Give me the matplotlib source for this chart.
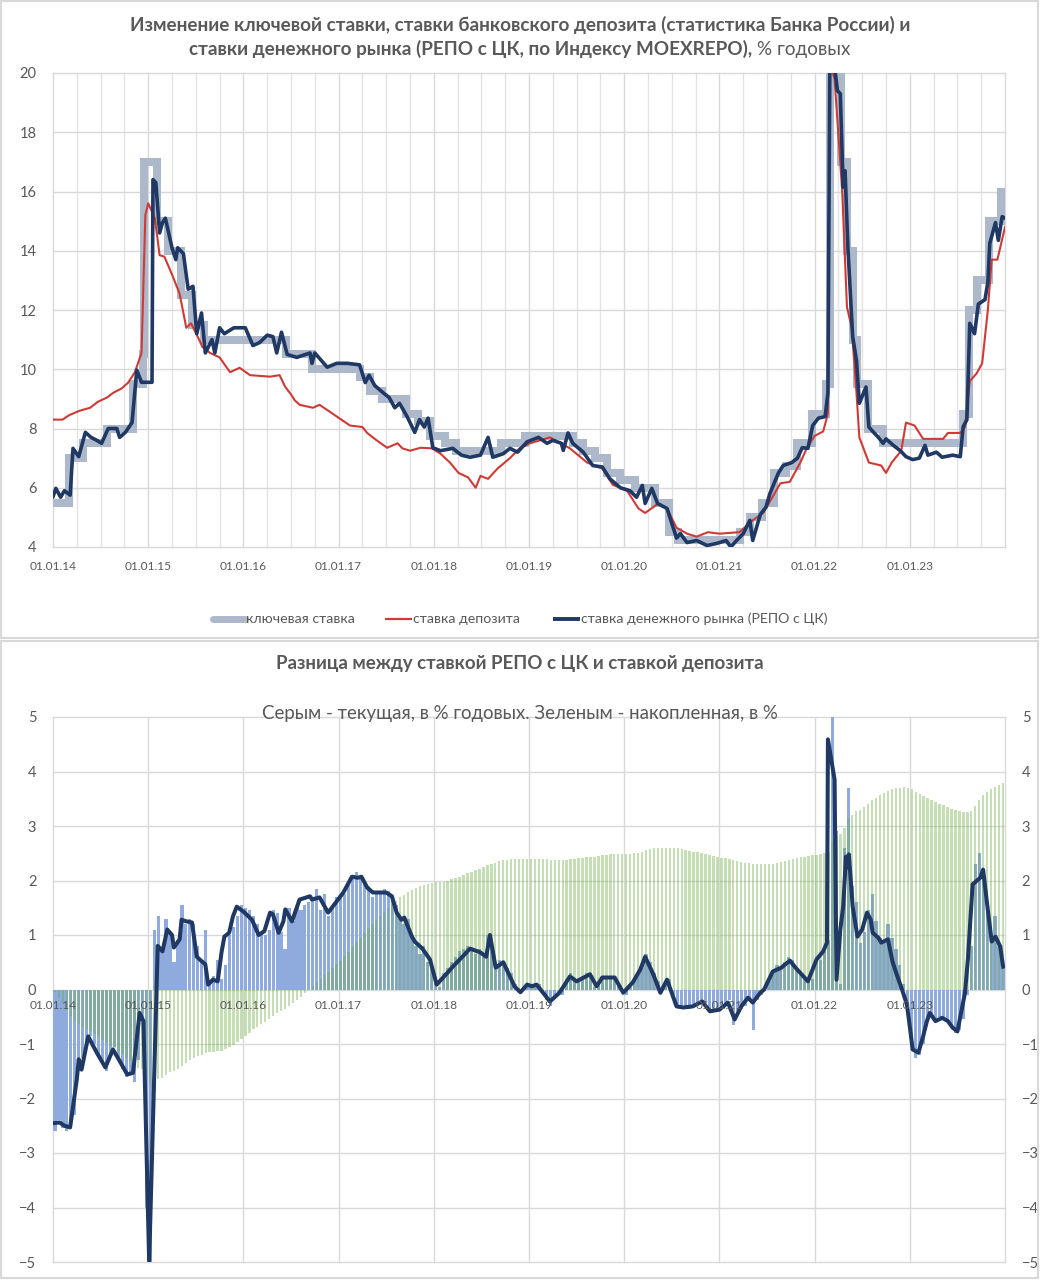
import matplotlib
matplotlib.use('Agg')
import matplotlib.pyplot as plt
from matplotlib.patches import Rectangle
from matplotlib.lines import Line2D
import numpy as np

plt.rcParams['font.family'] = ['Lato', 'DejaVu Sans']
TXT = '#595959'
GRID = '#d9d9d9'

# ---------------- DATA ----------------
year_labels = ['01.01.14', '01.01.15', '01.01.16', '01.01.17', '01.01.18',
               '01.01.19', '01.01.20', '01.01.21', '01.01.22', '01.01.23']
year_pos = [2014, 2015, 2016, 2017, 2018, 2019, 2020, 2021, 2022, 2023]

# Key rate (step changes), decimal years
key_t = [2014.00, 2014.17, 2014.32, 2014.57, 2014.84, 2014.95, 2014.96, 2015.09, 2015.21,
         2015.34, 2015.46, 2015.59, 2016.45, 2016.72, 2017.23, 2017.33, 2017.46, 2017.71,
         2017.83, 2017.96, 2018.12, 2018.23, 2018.71, 2018.96, 2019.46, 2019.57, 2019.69,
         2019.82, 2019.96, 2020.11, 2020.32, 2020.47, 2020.57, 2021.22, 2021.32, 2021.45,
         2021.57, 2021.70, 2021.82, 2021.97, 2022.12, 2022.16, 2022.28, 2022.34, 2022.40,
         2022.45, 2022.56, 2022.72, 2023.56, 2023.62, 2023.71, 2023.83, 2023.96, 2024.00]
key_v = [5.5, 7.0, 7.5, 8.0, 9.5, 10.5, 17.0, 15.0, 14.0, 12.5, 11.5, 11.0, 10.5, 10.0,
         9.75, 9.25, 9.0, 8.5, 8.25, 7.75, 7.5, 7.25, 7.5, 7.75, 7.5, 7.25, 7.0, 6.5, 6.25,
         6.0, 5.5, 4.5, 4.25, 4.5, 5.0, 5.5, 6.5, 6.75, 7.5, 8.5, 9.5, 20.0, 17.0, 14.0,
         11.0, 9.5, 8.0, 7.5, 8.5, 12.0, 13.0, 15.0, 16.0, 16.0]

# Deposit rate
dep_t = [2014.00, 2014.10, 2014.17, 2014.28, 2014.39, 2014.47, 2014.57, 2014.63, 2014.72,
         2014.79, 2014.86, 2014.93, 2014.97, 2015.00, 2015.07, 2015.12, 2015.17, 2015.25,
         2015.33, 2015.40, 2015.45, 2015.52, 2015.57, 2015.65, 2015.75, 2015.86, 2015.96,
         2016.07, 2016.28, 2016.38, 2016.44, 2016.50, 2016.54, 2016.59, 2016.73, 2016.80,
         2016.96, 2017.12, 2017.25, 2017.30, 2017.40, 2017.51, 2017.62, 2017.67, 2017.75,
         2017.86, 2017.98, 2018.07, 2018.17, 2018.26, 2018.36, 2018.44, 2018.49, 2018.57,
         2018.67, 2018.80, 2018.90, 2019.01, 2019.22, 2019.43, 2019.61, 2019.77, 2019.88,
         2020.03, 2020.15, 2020.22, 2020.35, 2020.45, 2020.55, 2020.66, 2020.76, 2020.88,
         2021.00, 2021.21, 2021.35, 2021.46, 2021.56, 2021.64, 2021.74, 2021.85, 2021.92,
         2022.00, 2022.09, 2022.14, 2022.16, 2022.21, 2022.29, 2022.34, 2022.39, 2022.44,
         2022.47, 2022.57, 2022.70, 2022.75, 2022.81, 2022.91, 2022.96, 2023.05, 2023.14,
         2023.35, 2023.40, 2023.53, 2023.58, 2023.63, 2023.70, 2023.76, 2023.82, 2023.86,
         2023.92, 2024.00]
dep_v = [8.3, 8.3, 8.45, 8.6, 8.7, 8.9, 9.05, 9.2, 9.35, 9.55, 9.9, 10.55, 15.2, 15.6, 15.1,
         13.85, 13.8, 13.2, 12.55, 11.4, 11.55, 11.1, 10.75, 10.55, 10.4, 9.9, 10.05, 9.8,
         9.75, 9.8, 9.4, 9.15, 8.95, 8.8, 8.7, 8.8, 8.45, 8.1, 8.05, 7.85, 7.6, 7.35, 7.5,
         7.33, 7.25, 7.35, 7.33, 7.15, 6.85, 6.5, 6.35, 6.0, 6.4, 6.3, 6.65, 7.0, 7.33, 7.5,
         7.7, 7.33, 6.85, 6.65, 6.1, 5.9, 5.3, 5.15, 5.45, 5.3, 4.65, 4.45, 4.35, 4.5, 4.45,
         4.5, 4.9, 5.15, 5.7, 6.15, 6.2, 6.85, 7.35, 7.75, 7.9, 8.5, 20.3, 19.8, 16.0, 12.1,
         11.4, 9.2, 7.7, 6.85, 6.75, 6.5, 6.85, 7.25, 8.2, 8.1, 7.65, 7.65, 7.85, 7.85, 8.05,
         9.6, 9.85, 10.2, 12.0, 13.7, 13.7, 14.8]

# Money market rate (REPO with CB, MOEXREPO)
repo_t = [2014.00, 2014.03, 2014.08, 2014.12, 2014.18, 2014.21, 2014.27, 2014.34, 2014.40,
          2014.46, 2014.51, 2014.58, 2014.67, 2014.70, 2014.76, 2014.83, 2014.88, 2014.93,
          2015.04, 2015.05, 2015.08, 2015.12, 2015.15, 2015.18, 2015.25, 2015.29, 2015.31,
          2015.37, 2015.42, 2015.47, 2015.51, 2015.56, 2015.60, 2015.67, 2015.70, 2015.75,
          2015.80, 2015.90, 2016.02, 2016.10, 2016.17, 2016.25, 2016.31, 2016.35, 2016.40,
          2016.46, 2016.56, 2016.70, 2016.72, 2016.75, 2016.88, 2016.98, 2017.09, 2017.22,
          2017.28, 2017.32, 2017.38, 2017.47, 2017.53, 2017.59, 2017.64, 2017.72, 2017.80,
          2017.85, 2017.90, 2017.94, 2017.99, 2018.07, 2018.20, 2018.29, 2018.38, 2018.49,
          2018.57, 2018.62, 2018.73, 2018.80, 2018.88, 2018.98, 2019.10, 2019.19, 2019.25,
          2019.34, 2019.36, 2019.41, 2019.46, 2019.57, 2019.67, 2019.77, 2019.85, 2019.96,
          2020.06, 2020.13, 2020.19, 2020.22, 2020.29, 2020.35, 2020.45, 2020.50, 2020.55,
          2020.59, 2020.66, 2020.76, 2020.87, 2020.97, 2021.07, 2021.12, 2021.18, 2021.25,
          2021.32, 2021.35, 2021.43, 2021.49, 2021.53, 2021.62, 2021.67, 2021.76, 2021.82,
          2021.87, 2021.93, 2021.98, 2022.04, 2022.11, 2022.14, 2022.16, 2022.21, 2022.24,
          2022.27, 2022.30, 2022.32, 2022.35, 2022.40, 2022.44, 2022.47, 2022.54, 2022.57,
          2022.62, 2022.67, 2022.72, 2022.75, 2022.82, 2022.90, 2022.96, 2023.03, 2023.10,
          2023.16, 2023.19, 2023.28, 2023.34, 2023.45, 2023.53, 2023.56, 2023.60, 2023.63,
          2023.68, 2023.72, 2023.79, 2023.82, 2023.84, 2023.90, 2023.93, 2023.97, 2024.00]
repo_v = [5.7, 5.98, 5.68, 5.9, 5.75, 7.33, 7.05, 7.87, 7.7, 7.6, 7.5, 8.0, 8.0, 7.7, 7.87,
          8.2, 9.97, 9.56, 9.56, 16.4, 16.3, 14.6, 14.95, 15.1, 14.1, 13.7, 14.1, 13.9, 12.7,
          12.8, 11.2, 11.9, 10.55, 11.0, 10.55, 11.4, 11.2, 11.4, 11.4, 10.8, 10.9, 11.15,
          11.1, 10.55, 11.25, 10.5, 10.4, 10.55, 10.2, 10.55, 10.07, 10.2, 10.2, 10.15, 9.55,
          9.8, 9.45, 9.2, 9.05, 8.7, 8.85, 8.4, 7.87, 8.3, 8.05, 8.35, 7.35, 7.25, 7.33, 7.1,
          7.03, 7.1, 7.7, 7.03, 7.15, 7.33, 7.2, 7.55, 7.7, 7.5, 7.6, 7.5, 7.26, 7.85, 7.5,
          7.2, 6.75, 6.7, 6.3, 6.0, 5.9, 5.68, 6.08, 5.47, 5.98, 5.47, 5.3, 4.8, 4.3, 4.45,
          4.15, 4.22, 4.05, 4.12, 4.22, 4.0, 4.22, 4.45, 4.9, 4.22, 5.1, 5.35, 5.8, 6.5, 6.75,
          6.85, 7.0, 7.35, 7.33, 8.1, 8.35, 8.4, 9.2, 20.3, 20.2, 19.4, 19.3, 16.15, 16.7,
          14.1, 11.1, 10.3, 8.85, 9.4, 8.05, 7.87, 7.7, 7.5, 7.65, 7.45, 7.25, 7.05, 6.95,
          7.0, 7.43, 7.1, 7.2, 7.03, 7.1, 7.05, 8.05, 8.3, 11.55, 11.2, 12.2, 12.35, 12.95,
          14.25, 14.95, 14.35, 15.15, 15.1]

# Bottom chart: semi-monthly bars from 2014.0 (24 per year)
diff_bars = [
    -2.6, -2.4, -2.55, -2.6, -2.5, -2.3, -1.5, -1.25, -1.0, -0.85, -1.0, -1.2,
    -1.35, -1.5, -1.2, -1.05, -1.25, -1.45, -1.6, -1.55, -1.7, -1.3, -0.5, -4.0,
    -5.0, 1.1, 1.35, 0.7, 1.3, 1.05, 0.5, 0.9, 1.55, 1.2, 1.3, 1.2,
    0.8, 0.55, 1.1, 0.1, 0.25, 0.55, 0.2, 0.45, 1.0, 1.15, 1.35, 1.55,
    1.5, 1.45, 1.35, 1.2, 1.05, 1.0, 1.1, 1.45, 1.4, 1.05, 0.75, 1.5,
    1.25, 1.5, 1.45, 1.55, 1.6, 1.7, 1.85, 1.45, 1.75, 1.35, 1.5, 1.7,
    1.7, 1.75, 1.95, 2.1, 2.15, 2.05, 2.0, 1.9, 1.7, 1.8, 1.75, 1.85,
    1.8, 1.7, 1.55, 1.3, 1.2, 1.3, 1.0, 0.8, 0.65, 0.8, 0.5, 0.45,
    0.15, 0.05, 0.3, 0.4, 0.5, 0.6, 0.7, 0.75, 0.8, 0.7, 0.65, 0.75,
    0.6, 1.0, 0.9, 0.45, 0.55, 0.5, 0.4, 0.3, 0.1, -0.05, 0.0, 0.1,
    0.1, 0.05, 0.1, -0.05, -0.2, -0.3, -0.15, -0.05, -0.1, 0.2, 0.3, 0.15,
    0.2, 0.25, 0.3, 0.25, 0.05, 0.1, 0.25, 0.2, 0.2, 0.25, 0.1, -0.05,
    -0.1, 0.05, 0.15, 0.3, 0.45, 0.65, 0.5, 0.3, 0.15, -0.05, 0.1, 0.2,
    -0.1, -0.3, -0.35, -0.3, -0.35, -0.3, -0.25, -0.2, -0.25, -0.4, -0.4, -0.35,
    -0.35, -0.3, -0.2, -0.65, -0.4, -0.35, -0.3, -0.15, -0.75, -0.2, -0.1, 0.0,
    0.15, 0.35, 0.45, 0.4, 0.5, 0.6, 0.55, 0.4, 0.3, 0.25, 0.15, 0.2,
    0.6, 0.55, 0.7, 0.9, 5.2, 2.9, 0.1, 2.6, 3.7, 1.9, 1.6, 0.85,
    1.05, 1.45, 1.75, 1.25, 0.95, 0.85, 1.2, 0.95, 0.75, 0.45, 0.1, -0.3,
    -1.0, -1.25, -1.2, -1.0, -0.6, -0.45, -0.6, -0.5, -0.55, -0.6, -0.7, -0.8,
    -0.75, -0.55, -0.1, 0.8, 2.3, 2.5, 2.0, 1.6, 1.0, 1.35, 0.8, 0.4]

cum_bars = [
    -0.05, -0.16, -0.26, -0.37, -0.48, -0.58, -0.64, -0.69, -0.73, -0.77, -0.81, -0.86,
    -0.92, -0.98, -1.03, -1.07, -1.12, -1.18, -1.25, -1.31, -1.38, -1.44, -1.46, -1.6,
    -1.75, -1.71, -1.65, -1.62, -1.57, -1.52, -1.5, -1.46, -1.4, -1.35, -1.3, -1.25,
    -1.22, -1.2, -1.16, -1.15, -1.14, -1.13, -1.12, -1.1, -1.06, -1.02, -0.96, -0.9,
    -0.85, -0.79, -0.73, -0.68, -0.64, -0.59, -0.55, -0.49, -0.43, -0.39, -0.36, -0.3,
    -0.25, -0.19, -0.13, -0.06, 0.0, 0.07, 0.14, 0.2, 0.27, 0.33, 0.39, 0.46,
    0.53, 0.61, 0.69, 0.78, 0.87, 0.95, 1.04, 1.12, 1.2, 1.27, 1.35, 1.42,
    1.5, 1.57, 1.63, 1.69, 1.74, 1.79, 1.83, 1.86, 1.89, 1.92, 1.94, 1.96,
    1.97, 1.97, 1.98, 2.0, 2.02, 2.04, 2.07, 2.1, 2.13, 2.16, 2.19, 2.21,
    2.24, 2.28, 2.31, 2.33, 2.35, 2.37, 2.38, 2.39, 2.4, 2.4, 2.4, 2.4,
    2.4, 2.4, 2.4, 2.4, 2.39, 2.38, 2.38, 2.37, 2.37, 2.38, 2.39, 2.4,
    2.41, 2.42, 2.43, 2.44, 2.44, 2.45, 2.46, 2.47, 2.48, 2.49, 2.49, 2.49,
    2.49, 2.49, 2.5, 2.51, 2.53, 2.56, 2.58, 2.6, 2.6, 2.6, 2.6, 2.6,
    2.6, 2.59, 2.57, 2.56, 2.54, 2.53, 2.52, 2.5, 2.49, 2.47, 2.45, 2.44,
    2.42, 2.41, 2.4, 2.38, 2.36, 2.34, 2.33, 2.32, 2.31, 2.3, 2.3, 2.3,
    2.3, 2.31, 2.32, 2.34, 2.36, 2.38, 2.4, 2.42, 2.43, 2.44, 2.45, 2.46,
    2.47, 2.48, 2.5, 2.53, 2.72, 2.84, 2.86, 2.97, 3.12, 3.2, 3.27, 3.3,
    3.34, 3.4, 3.47, 3.52, 3.56, 3.6, 3.64, 3.67, 3.69, 3.7, 3.71, 3.7,
    3.67, 3.63, 3.59, 3.55, 3.51, 3.47, 3.44, 3.41, 3.38, 3.35, 3.32, 3.3,
    3.28, 3.26, 3.25, 3.27, 3.36, 3.47, 3.56, 3.62, 3.67, 3.71, 3.75, 3.78]

# Smoothed difference line
dl_t = [2014.02, 2014.07, 2014.12, 2014.18, 2014.25, 2014.27, 2014.30, 2014.37, 2014.46,
        2014.55, 2014.63, 2014.69, 2014.78, 2014.84, 2014.91, 2014.95, 2015.01, 2015.10,
        2015.15, 2015.20, 2015.25, 2015.27, 2015.33, 2015.35, 2015.40, 2015.46, 2015.51,
        2015.60, 2015.63, 2015.68, 2015.73, 2015.77, 2015.80, 2015.85, 2015.89, 2015.93,
        2016.00, 2016.09, 2016.16, 2016.22, 2016.28, 2016.31, 2016.37, 2016.42, 2016.44,
        2016.51, 2016.59, 2016.70, 2016.72, 2016.80, 2016.89, 2016.98, 2017.05, 2017.14,
        2017.20, 2017.24, 2017.30, 2017.36, 2017.50, 2017.56, 2017.61, 2017.66, 2017.69,
        2017.77, 2017.80, 2017.88, 2017.96, 2018.03, 2018.14, 2018.20, 2018.30, 2018.38,
        2018.49, 2018.55, 2018.59, 2018.65, 2018.73, 2018.85, 2018.91, 2018.98, 2019.03,
        2019.08, 2019.22, 2019.32, 2019.43, 2019.50, 2019.64, 2019.71, 2019.77, 2019.90,
        2019.99, 2020.09, 2020.17, 2020.22, 2020.30, 2020.38, 2020.45, 2020.55, 2020.62,
        2020.72, 2020.82, 2020.90, 2021.00, 2021.09, 2021.16, 2021.23, 2021.30, 2021.35,
        2021.43, 2021.47, 2021.56, 2021.65, 2021.74, 2021.80, 2021.93, 2022.02, 2022.09,
        2022.13, 2022.14, 2022.21, 2022.23, 2022.27, 2022.30, 2022.33, 2022.35, 2022.36,
        2022.40, 2022.45, 2022.50, 2022.55, 2022.59, 2022.61, 2022.67, 2022.70, 2022.77,
        2022.82, 2022.87, 2022.93, 2022.97, 2023.00, 2023.03, 2023.09, 2023.14, 2023.18,
        2023.21, 2023.27, 2023.34, 2023.40, 2023.45, 2023.50, 2023.58, 2023.61, 2023.66,
        2023.74, 2023.77, 2023.81, 2023.86, 2023.90, 2023.95, 2023.98]
dl_v = [-2.45, -2.44, -2.5, -2.53, -1.65, -1.28, -1.47, -0.86, -1.16, -1.43, -1.1, -1.28,
        -1.56, -1.53, -0.43, -0.58, -5.0, 0.8, 0.7, 1.1, 1.0, 0.77, 0.92, 1.28, 1.25, 1.23,
        0.6, 0.46, 0.09, 0.18, 0.15, 0.68, 0.97, 1.04, 1.34, 1.52, 1.43, 1.28, 1.0, 1.07,
        1.41, 1.38, 1.04, 1.25, 1.47, 1.25, 1.65, 1.71, 1.65, 1.69, 1.41, 1.62, 1.78, 2.07,
        2.05, 2.07, 1.87, 1.78, 1.78, 1.71, 1.41, 1.28, 1.32, 0.97, 0.88, 0.75, 0.55, 0.09,
        0.3, 0.42, 0.6, 0.75, 0.68, 0.6, 1.0, 0.4, 0.5, 0.05, -0.05, 0.09, 0.06, 0.09, -0.22,
        -0.06, 0.24, 0.15, 0.28, 0.06, 0.22, 0.22, -0.06, 0.13, 0.37, 0.6, 0.3, -0.06, 0.18,
        -0.31, -0.33, -0.31, -0.22, -0.4, -0.37, -0.24, -0.55, -0.31, -0.15, -0.24, -0.06,
        0.0, 0.33, 0.4, 0.53, 0.4, 0.15, 0.55, 0.7, 0.86, 4.59, 3.85, 0.18, 1.1, 1.52, 2.44,
        2.24, 2.48, 1.52, 0.97, 1.1, 1.41, 1.28, 1.04, 0.95, 0.86, 0.92, 0.5, 0.24, -0.06,
        -0.28, -0.68, -1.1, -1.16, -0.86, -0.58, -0.43, -0.58, -0.52, -0.58, -0.7, -0.77,
        -0.06, 0.55, 1.93, 2.05, 2.2, 1.6, 0.88, 0.97, 0.79, 0.42]

# ---------------- FIGURE ----------------
W, H = 1040, 1280
fig = plt.figure(figsize=(W / 100, H / 100), dpi=100)


def fx(px):
    return px / W


def fy(py):
    return 1 - py / H


# chart frames
for (y0, y1) in [(1, 638), (641, 1278)]:
    fig.patches.append(Rectangle((fx(1), fy(y1)), fx(1037), (y1 - y0) / H,
                                 transform=fig.transFigure, fill=False,
                                 edgecolor='#d9d9d9', lw=1.5))

# ---------- top chart ----------
ax1 = fig.add_axes([fx(53), fy(547), 952 / W, 474 / H])
ax1.set_xlim(2014, 2024)
ax1.set_ylim(4, 20)
for s in ax1.spines.values():
    s.set_visible(False)
for q in np.arange(2014, 2024.01, 0.25):
    ax1.axvline(q, color='#e3e3e3' if q % 1 else GRID, lw=1.0, zorder=0, clip_on=False)
for yv in range(4, 21, 2):
    ax1.axhline(yv, color=GRID, lw=1.0, zorder=0, clip_on=False)

ax1.plot(key_t, key_v, drawstyle='steps-post', color='#adb9ca', lw=5.8, zorder=2,
         solid_joinstyle='miter')
ax1.plot(dep_t, dep_v, color='#d03a36', lw=1.5, zorder=3)
ax1.plot(repo_t, repo_v, color='#1f3864', lw=2.6, zorder=4, solid_joinstyle='round')

ax1.set_yticks(range(4, 21, 2))
ax1.set_xticks(year_pos)
ax1.set_xticklabels(year_labels)
ax1.tick_params(axis='both', length=0, colors=TXT)
ax1.tick_params(axis='y', labelsize=10.5, pad=12)
ax1.tick_params(axis='x', labelsize=8.6, pad=10)

# title top
TS = 13.6
fig.text(0.5, fy(25), 'Изменение ключевой ставки, ставки банковского депозита (статистика Банка России) и',
         ha='center', va='center', fontsize=TS, fontweight='bold', color=TXT)
t_b = fig.text(0.5, fy(49), 'ставки денежного рынка (РЕПО с ЦК, по Индексу MOEXREPO),',
               ha='left', va='center', fontsize=TS, fontweight='bold', color=TXT)
t_r = fig.text(0.5, fy(49), ' % годовых', ha='left', va='center', fontsize=TS, color=TXT)

# legend
leg_y = fy(619)
leg_items = [(213, 245, '#adb9ca', 5.0, 'ключевая ставка'),
             (385, 412, '#d03a36', 1.6, 'ставка депозита'),
             (553, 580, '#1f3864', 2.8, 'ставка денежного рынка (РЕПО с ЦК)')]
for x0, x1, c, lw, lab in leg_items:
    fig.lines.append(Line2D([fx(x0), fx(x1)], [leg_y, leg_y], transform=fig.transFigure,
                            color=c, lw=lw, solid_capstyle='round' if lw > 4 else 'butt'))
    fig.text(fx(x1 + 1), leg_y, lab, ha='left', va='center', fontsize=10.2, color=TXT)

# ---------- bottom chart ----------
ax2 = fig.add_axes([fx(53), fy(1262), 952 / W, 545 / H])
ax2.set_xlim(2014, 2024)
ax2.set_ylim(-5, 5)
for s in ax2.spines.values():
    s.set_visible(False)
for yv in range(-5, 6):
    ax2.axhline(yv, color=GRID, lw=1.0, zorder=0, clip_on=False)
for xv in range(2014, 2025):
    ax2.axvline(xv, color=GRID, lw=1.0, zorder=0, clip_on=False)

n = len(diff_bars)
bx = 2014 + (np.arange(n) + 0.5) / 24.0
ax2.bar(bx, diff_bars, width=0.8 / 24, color='#8faadc', lw=0, zorder=2)
ax2.bar(bx, cum_bars, width=0.6 / 24, color='#70ad47', alpha=0.4, lw=0, zorder=3)
ax2.plot(dl_t, dl_v, color='#1f3864', lw=2.9, zorder=4, solid_joinstyle='round')

ax2.set_yticks(range(-5, 6))
ax2.set_xticks([])
ax2.tick_params(axis='y', length=0, colors=TXT, labelsize=10.5, pad=12,
                labelright=True)
for xp, lab in zip(year_pos, year_labels):
    ax2.text(xp, -0.3, lab, ha='center', va='center', fontsize=8.6, color=TXT, zorder=5)

fig.text(0.5, fy(663), 'Разница между ставкой РЕПО с ЦК и ставкой депозита',
         ha='center', va='center', fontsize=13.5, fontweight='bold', color=TXT)
fig.text(0.5, fy(713), 'Серым - текущая, в % годовых. Зеленым - накопленная, в %',
         ha='center', va='center', fontsize=13.4, color=TXT, zorder=10)

# position mixed-weight title line
fig.canvas.draw()
r = fig.canvas.get_renderer()
wb = t_b.get_window_extent(r).width
wr = t_r.get_window_extent(r).width
x0 = (W - (wb + wr)) / 2
t_b.set_x(x0 / W)
t_r.set_x((x0 + wb) / W)

fig.savefig('out.png', dpi=100)
